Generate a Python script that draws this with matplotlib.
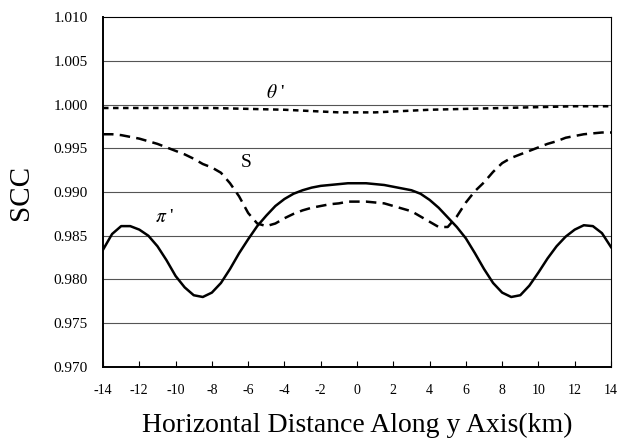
import numpy as np
import matplotlib
matplotlib.use('Agg')
import matplotlib.pyplot as plt

# distance along y axis (km)
dist = [-14, -13.5, -13, -12.5, -12, -11.5, -11, -10.5, -10, -9.5, -9, -8.5, -8,
        -7.5, -7, -6.5, -6, -5.5, -5, -4.5, -4, -3.5, -3, -2.5, -2, -1.5, -1, -0.5,
        0, 0.5, 1, 1.5, 2, 2.5, 3, 3.5, 4, 4.5, 5, 5.5, 6, 6.5, 7, 7.5, 8, 8.5,
        9, 9.5, 10, 10.5, 11, 11.5, 12, 12.5, 13, 13.5, 14]

# pi' (solid)
scc_pi = [0.9834, 0.9852, 0.9861, 0.9861, 0.9857, 0.9850, 0.9838, 0.9822, 0.9804,
          0.9791, 0.9782, 0.9780, 0.9785, 0.9796, 0.9812, 0.9830, 0.9846, 0.9861,
          0.9873, 0.9884, 0.9892, 0.9898, 0.9902, 0.9905, 0.9907, 0.9908, 0.9909,
          0.9910, 0.9910, 0.9910, 0.9909, 0.9908, 0.9906, 0.9904, 0.9902, 0.9898,
          0.9891, 0.9882, 0.9871, 0.9860, 0.9847, 0.9830, 0.9812, 0.9796, 0.9785,
          0.9780, 0.9782, 0.9793, 0.9808, 0.9824, 0.9838, 0.9849, 0.9857, 0.9862,
          0.9861, 0.9853, 0.9837]

# S (dashed)
scc_s = [0.9966, 0.9966, 0.9965, 0.9963, 0.9961, 0.9958, 0.9955, 0.9951, 0.9947,
         0.9943, 0.9938, 0.9932, 0.9928, 0.9922, 0.9910, 0.9895, 0.9876, 0.9864,
         0.9861, 0.9864, 0.9870, 0.9875, 0.9879, 0.9882, 0.9884, 0.9886, 0.9887,
         0.9889, 0.9889, 0.9889, 0.9888, 0.9887, 0.9884, 0.9881, 0.9878, 0.9872,
         0.9866, 0.9860, 0.9860, 0.9872, 0.9888, 0.9901, 0.9911, 0.9923, 0.9933,
         0.9939, 0.9943, 0.9947, 0.9951, 0.9955, 0.9958, 0.9962, 0.9964, 0.9966,
         0.9967, 0.9968, 0.9968]

# theta' (short dashes)
dist_th = [-14, -12, -10, -8, -6, -4, -3, -2, -1, 0, 1, 2, 3, 4, 6, 8, 10, 12, 14]
scc_th = [0.9996, 0.9996, 0.9996, 0.9996, 0.9995, 0.9994, 0.9993, 0.9992, 0.9991,
          0.9991, 0.9991, 0.9992, 0.9993, 0.9994, 0.9995, 0.9996, 0.9997, 0.9998,
          0.9998]

xticks = list(range(-14, 15, 2))
yticks = [0.970, 0.975, 0.980, 0.985, 0.990, 0.995, 1.000, 1.005, 1.010]

plt.rcParams['font.family'] = ['Liberation Serif', 'DejaVu Serif']
plt.rcParams['mathtext.fontset'] = 'stix'

fig = plt.figure(figsize=(6.18, 4.43), dpi=100)
ax = fig.add_axes([0.1667, 0.1716, 0.8220, 0.7900])

for y in yticks[1:-1]:
    ax.axhline(y, color='#555555', lw=0.8, zorder=1)

ax.plot(dist, scc_pi, color='black', lw=1.8, zorder=3)
ax.plot(dist, scc_s, color='black', lw=1.8, dashes=(4.2, 2.5), zorder=3)
ax.plot(dist_th, scc_th, color='black', lw=1.8, dashes=(2.2, 1.8), zorder=3)

ax.text(-4.5, 1.0013, r"$\theta$ '", fontsize=14, ha='center', va='center')
ax.text(-6.1, 0.9934, 'S', fontsize=14, ha='center', va='center')
ax.text(-10.6, 0.9871, r"$\pi$ '", fontsize=14, ha='center', va='center')

ax.set_xlim(-14, 14)
ax.set_ylim(0.970, 1.010)
ax.set_xticks(xticks)
ax.set_xticklabels([str(t) for t in xticks])
ax.set_yticks(yticks)
ax.set_yticklabels(['%.3f' % t for t in yticks])
ax.tick_params(axis='x', direction='in', length=4, width=0.8, labelsize=10, pad=12)
ax.tick_params(axis='y', length=0, labelsize=11, pad=11)

for side in ['top', 'right']:
    ax.spines[side].set_linewidth(0.8)
for side in ['left', 'bottom']:
    ax.spines[side].set_linewidth(1.4)

ax.set_xlabel('Horizontal Distance Along y Axis(km)', fontsize=20, labelpad=12)
ax.set_ylabel('SCC', fontsize=21, labelpad=14)

fig.savefig('out.png', dpi=100)
